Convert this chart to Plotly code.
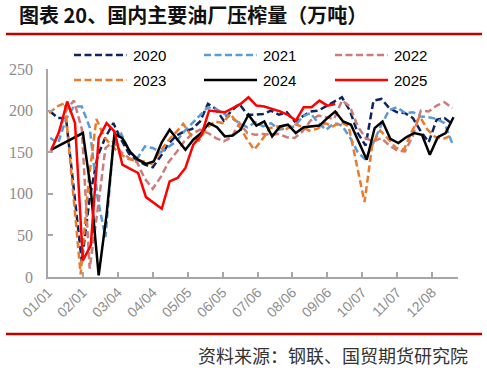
import plotly.graph_objects as go
import pandas as pd

# ---------------- data ----------------
years = ["2020", "2021", "2022", "2023", "2024", "2025"]
start_dates = ["2025-01-03", "2025-01-03", "2025-01-03", "2025-01-02", "2025-01-04", "2025-01-04"]

v2020 = [199, 191, 191, 105, 18, 95, 145, 168, 185, 165, 148, 140, 135, 132, 145,
         160, 170, 175, 178, 187, 208, 202, 188, 200, 208, 195, 195, 196, 200, 195,
         198, 187, 193, 199, 200, 205, 211, 216, 200, 173, 158, 212, 214, 203, 198,
         197, 191, 175, 162, 189, 191, 184]
v2021 = [167, 161, 190, 205, 205, 180, 95, 48, 160, 172, 152, 142, 157, 155, 150,
         157, 163, 175, 185, 195, 204, 202, 197, 191, 185, 180, 186, 181, 185, 177,
         179, 181, 193, 197, 185, 177, 185, 182, 168, 150, 141, 162, 183, 201, 204,
         197, 198, 193, 192, 190, 185, 160]
v2022 = [150, 172, 200, 212, 178, 10, 80, 155, 163, 150, 143, 138, 118, 106, 120,
         138, 150, 163, 172, 177, 173, 167, 163, 168, 185, 173, 171, 172, 171, 172,
         168, 167, 175, 188, 194, 192, 190, 212, 205, 181, 167, 163, 167, 158, 152,
         151, 170, 200, 199, 206, 210, 203]
v2023 = [197, 205, 209, 110, 3, 115, 190, 168, 157, 148, 142, 140, 139, 136, 150,
         163, 173, 184, 170, 164, 179, 187, 185, 196, 183, 167, 153, 165, 179, 181,
         177, 184, 181, 176, 178, 185, 181, 186, 181, 135, 90, 160, 176, 166, 155,
         153, 175, 193, 177, 168, 166, 170]
v2024 = [153, 158, 163, 168, 173, 105, 2, 75, 172, 167, 150, 141, 136, 139, 162,
         177, 165, 153, 165, 173, 185, 180, 169, 170, 177, 195, 182, 187, 169, 181,
         183, 173, 180, 181, 182, 191, 199, 187, 183, 162, 141, 179, 187, 166, 161,
         168, 173, 171, 147, 168, 173, 192]
v2025 = [153, 175, 211, 185, 20, 38, 167, 185, 175, 135, 130, 125, 96, 89, 82,
         115, 119, 131, 159, 170, 200, 199, 198, 203, 208, 216, 206, 205, 202, 199,
         195, 188, 204, 204, 212, 206, 208]

tick_dates = ["2025-01-01", "2025-02-01", "2025-03-04", "2025-04-04", "2025-05-05",
              "2025-06-05", "2025-07-06", "2025-08-06", "2025-09-06", "2025-10-07",
              "2025-11-07", "2025-12-08"]
tick_labels = ["01/01", "02/01", "03/04", "04/04", "05/05", "06/05",
               "07/06", "08/06", "09/06", "10/07", "11/07", "12/08"]
y_ticks = [0, 50, 100, 150, 200, 250]

series_values = [v2020, v2021, v2022, v2023, v2024, v2025]

# ---------------- styles ----------------
colors = ["#0C2461", "#5B9BD5", "#CD7B7B", "#EB7B2B", "#000000", "#FF0000"]
dashes = ["7px,3.5px", "7px,3.5px", "7px,3.5px", "7px,3.5px", "solid", "solid"]
widths = [2.5, 2.5, 2.5, 2.5, 2.5, 2.5]

W, H = 487, 368
ML, MR, MT, MB = 48, 29, 69, 91
PW, PH = W - ML - MR, H - MT - MB


def px_x(px):
    return (px - ML) / PW


def px_y(py):
    return (H - MB - py) / PH


fig = go.Figure()
for yr, sd, vals, c, d, w in zip(years, start_dates, series_values, colors, dashes, widths):
    xs = pd.date_range(sd, periods=len(vals), freq="7D")
    fig.add_trace(go.Scatter(x=xs, y=vals, mode="lines", name=yr, showlegend=False,
                             line=dict(color=c, dash=d, width=w)))

shapes = []
annotations = []

# manual legend (3 columns x 2 rows)
col_line_x = [74, 204, 335]
row_y = [55, 80]
for i, (yr, c, d) in enumerate(zip(years, colors, dashes)):
    col, row = i % 3, i // 3
    x0 = col_line_x[col]
    shapes.append(dict(type="line", xref="paper", yref="paper",
                       x0=px_x(x0), x1=px_x(x0 + 53), y0=px_y(row_y[row]), y1=px_y(row_y[row]),
                       line=dict(color=c, dash=d, width=2.5)))
    annotations.append(dict(xref="paper", yref="paper", x=px_x(x0 + 57), y=px_y(row_y[row]),
                            text=yr, showarrow=False, xanchor="left", yanchor="middle",
                            font=dict(family="Liberation Sans, Arial", size=15, color="#000000")))

# title and rules
annotations.append(dict(xref="paper", yref="paper", x=px_x(17), y=px_y(14),
                        text="<b>图表 20、国内主要油厂压榨量（万吨）</b>", showarrow=False,
                        xanchor="left", yanchor="middle",
                        font=dict(family="Noto Sans CJK SC", size=20, color="#111111")))
shapes.append(dict(type="line", xref="paper", yref="paper", x0=px_x(6), x1=px_x(482),
                   y0=px_y(34), y1=px_y(34), line=dict(color="#C00000", width=2.5)))
shapes.append(dict(type="line", xref="paper", yref="paper", x0=px_x(6), x1=px_x(482),
                   y0=px_y(334), y1=px_y(334), line=dict(color="#C00000", width=2.5)))
annotations.append(dict(xref="paper", yref="paper", x=px_x(470), y=px_y(355),
                        text="资料来源：钢联、国贸期货研究院", showarrow=False,
                        xanchor="right", yanchor="middle",
                        font=dict(family="Noto Sans CJK SC", size=18, color="#333333")))

fig.update_layout(
    width=W, height=H,
    margin=dict(l=ML, r=MR, t=MT, b=MB, autoexpand=False),
    paper_bgcolor="white", plot_bgcolor="white",
    shapes=shapes, annotations=annotations,
    showlegend=False,
)
fig.update_xaxes(
    type="date", range=["2025-01-01", "2025-12-31"],
    tickmode="array", tickvals=tick_dates, ticktext=tick_labels, tickangle=-45,
    ticks="inside", ticklen=5, tickwidth=1.5, tickcolor="#A6A6A6",
    showline=True, linecolor="#A6A6A6", linewidth=1.5,
    showgrid=False, zeroline=False,
    tickfont=dict(family="Liberation Sans, Arial", size=14, color="#8C8C8C"),
)
fig.update_yaxes(
    range=[0, 250], tickmode="array", tickvals=y_ticks,
    ticks="inside", ticklen=5, tickwidth=1.5, tickcolor="#A6A6A6",
    showline=True, linecolor="#A6A6A6", linewidth=1.5,
    showgrid=False, zeroline=False, ticklabelstandoff=10,
    tickfont=dict(family="Liberation Serif, Times New Roman", size=16, color="#8C8C8C"),
)

fig.write_html("out.html", config={"displayModeBar": False},
               post_script="document.body.style.margin='0px';document.body.style.padding='0px';")
